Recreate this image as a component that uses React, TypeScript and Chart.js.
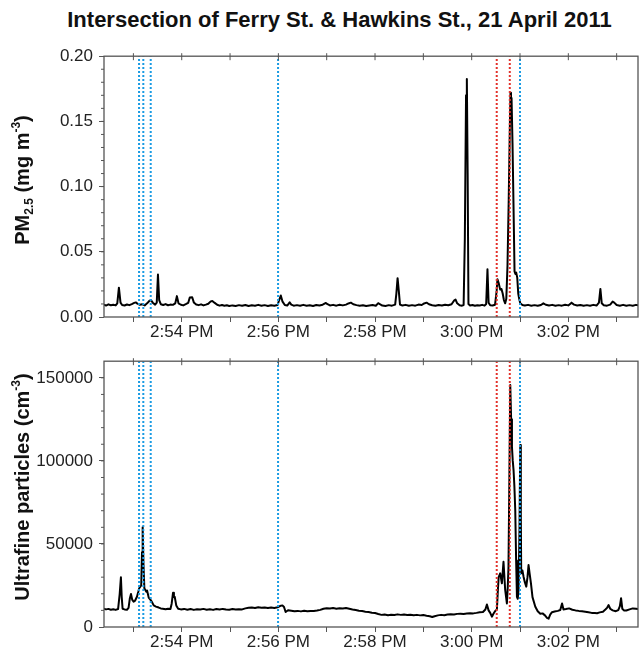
import React, { useEffect, useRef } from 'react';
import { Chart, registerables } from 'chart.js';
Chart.register(...registerables);

const TITLE = 'Intersection of Ferry St. & Hawkins St., 21 April 2011';
const FONT = '"Liberation Sans", Arial, Helvetica, sans-serif';

// time axis: seconds after 2:52:00 PM
const X_MIN = 23.5;
const X_MAX = 686.5;
const minuteTickSeconds = [60, 120, 180, 240, 300, 360, 420, 480, 540, 600, 660];
const labelledTickSeconds = [120, 240, 360, 480, 600];
const timeTickLabels = ['2:54 PM', '2:56 PM', '2:58 PM', '3:00 PM', '3:02 PM'];

const pmTickValues = [0, 0.05, 0.1, 0.15, 0.2];
const pmMax = 0.2;
const pmMinorStep = 0.01;
const ufpTickValues = [0, 50000, 100000, 150000];
const ufpMax = 160000;
const ufpMinorStep = 10000;

const blueMarkerSeconds = [67, 72.3, 81.5, 239.6, 540];
const redMarkerSeconds = [511.1, 527.3];

// [seconds after 2:52:00 PM, PM2.5 mg m-3]
const pm25Readings: [number, number][] = [
  [23, 0.0095], [26, 0.0088], [29, 0.0097], [32, 0.009], [35, 0.0094], [38, 0.0089], [40, 0.0105],
  [42, 0.0225], [44, 0.011], [46, 0.0092], [49, 0.0088], [52, 0.0096], [55, 0.0091], [58, 0.0099],
  [61, 0.0108], [63, 0.0112], [65, 0.0102], [68, 0.0094], [71, 0.0098], [74, 0.0089], [77, 0.0105],
  [80, 0.0125], [82, 0.0128], [84, 0.011], [87, 0.0095], [89, 0.011], [90.5, 0.0325], [92, 0.013],
  [94, 0.0098], [97, 0.0092], [100, 0.0099], [103, 0.009], [106, 0.0095], [109, 0.0093], [112, 0.0105],
  [114, 0.016], [116, 0.0105], [119, 0.0094], [122, 0.0089], [125, 0.0098], [128, 0.0108], [130, 0.015],
  [133, 0.0152], [135, 0.0112], [138, 0.0096], [141, 0.0091], [144, 0.0097], [147, 0.0089], [150, 0.0095],
  [153, 0.0102], [156, 0.012], [158, 0.0123], [161, 0.0108], [164, 0.0094], [167, 0.0087], [170, 0.0092],
  [173, 0.0086], [176, 0.009], [179, 0.0084], [183, 0.0089], [187, 0.0085], [191, 0.0091], [195, 0.0086],
  [199, 0.0092], [203, 0.0085], [207, 0.009], [211, 0.0087], [215, 0.0093], [219, 0.0086], [223, 0.0091],
  [227, 0.0085], [231, 0.009], [235, 0.0086], [239, 0.0092], [241, 0.013], [243, 0.0165], [245, 0.012],
  [248, 0.0092], [251, 0.0088], [254, 0.0112], [256, 0.0095], [259, 0.0087], [263, 0.0091], [267, 0.0086],
  [271, 0.0093], [275, 0.0087], [279, 0.009], [283, 0.0085], [287, 0.0092], [291, 0.0088], [295, 0.0094],
  [299, 0.0108], [301, 0.0098], [304, 0.0089], [308, 0.0093], [312, 0.0087], [316, 0.0094], [320, 0.0089],
  [324, 0.0095], [327, 0.0104], [330, 0.011], [333, 0.0098], [337, 0.0091], [341, 0.0087], [345, 0.009],
  [349, 0.0084], [353, 0.0088], [357, 0.0092], [361, 0.0086], [364, 0.0106], [366, 0.0098], [369, 0.0088],
  [373, 0.0085], [377, 0.0091], [381, 0.0087], [385, 0.0095], [386.5, 0.018], [388, 0.0298], [389.5, 0.02],
  [391, 0.0095], [394, 0.0088], [398, 0.0093], [402, 0.0086], [406, 0.0091], [410, 0.0087], [414, 0.0095],
  [418, 0.0092], [421, 0.0104], [424, 0.011], [427, 0.0098], [431, 0.009], [435, 0.0086], [439, 0.0092],
  [443, 0.0088], [447, 0.0094], [451, 0.009], [455, 0.0098], [458, 0.0125], [460, 0.0133], [462, 0.0105],
  [465, 0.009], [468, 0.0087], [470, 0.0092], [471.5, 0.06], [473, 0.17], [474, 0.1825], [475, 0.11],
  [476, 0.01], [478, 0.0088], [481, 0.0092], [484, 0.0086], [487, 0.009], [490, 0.0088], [493, 0.0093],
  [496, 0.0087], [498, 0.01], [499.6, 0.0366], [501, 0.011], [503, 0.009], [506, 0.0088], [509, 0.0094],
  [511, 0.02], [512, 0.029], [513.5, 0.026], [515.4, 0.021], [517, 0.0215], [518.5, 0.018], [520, 0.013],
  [521.6, 0.0105], [523, 0.014], [524.5, 0.04], [526, 0.09], [527.5, 0.15], [528.2, 0.172], [528.8, 0.162],
  [529.5, 0.168], [530.7, 0.133], [532, 0.083], [533.2, 0.035], [534.3, 0.033], [535.3, 0.034], [536.6, 0.03],
  [537.8, 0.018], [539, 0.014], [540.3, 0.0105], [543, 0.0092], [546, 0.0088], [550, 0.0093], [554, 0.0087],
  [558, 0.0091], [562, 0.0086], [566, 0.0092], [569, 0.0105], [572, 0.0094], [576, 0.0088], [580, 0.0093],
  [584, 0.0086], [588, 0.0091], [592, 0.0087], [596, 0.0094], [600, 0.0089], [604, 0.011], [607, 0.0095],
  [611, 0.0088], [615, 0.0092], [619, 0.0086], [623, 0.0091], [627, 0.0087], [631, 0.0093], [635, 0.0088],
  [638, 0.011], [639.8, 0.0215], [641.5, 0.0105], [644, 0.009], [648, 0.0087], [652, 0.0095], [655, 0.0118],
  [657, 0.011], [660, 0.0092], [664, 0.0087], [668, 0.0093], [672, 0.0086], [676, 0.0091], [680, 0.0087],
  [684, 0.0093], [687, 0.0089],
];

// [seconds after 2:52:00 PM, ultrafine particles cm-3]
const ufpReadings: [number, number][] = [
  [23, 11000], [26, 10600], [29, 10900], [32, 10400], [35, 10700], [38, 10300], [41, 10800], [43, 20000],
  [44.5, 29900], [45.5, 18000], [46.6, 11000], [49, 10600], [52, 10400], [54, 11500], [55.5, 17000],
  [57, 19850], [58.5, 16500], [60.3, 15200], [62, 15800], [64.4, 18200], [66, 21000], [67.2, 23300],
  [69.7, 25000], [70.7, 45000], [71.5, 60000], [72.5, 38000], [73.6, 23300], [75.9, 21300], [77, 22000],
  [79, 17700], [81.5, 16200], [83, 15000], [85.2, 13000], [88, 12300], [91.4, 11700], [94, 11200],
  [96.4, 11000], [100, 10700], [103, 11000], [106, 10800], [107.5, 14000], [109.2, 20600], [110.3, 18000],
  [111.3, 18200], [113.2, 13000], [115.6, 11000], [119, 10600], [123, 10900], [127, 10400], [131, 10800],
  [135, 10300], [139, 10700], [143, 10500], [147, 10900], [151, 10400], [155, 10700], [159, 10300],
  [163, 10800], [167, 10500], [171, 10900], [175, 10600], [179, 10400], [183, 10800], [187, 10500],
  [191, 10700], [195, 10600], [199, 11200], [203, 11600], [207, 11800], [211, 11500], [215, 11900],
  [219, 11600], [223, 11800], [227, 11400], [231, 11700], [235, 11500], [239, 11900], [242, 12600],
  [245, 13000], [247, 12000], [249, 9000], [252, 10100], [256, 9800], [260, 9500], [264, 9700], [268, 9400],
  [272, 9800], [276, 9500], [280, 9700], [284, 9600], [288, 9900], [292, 10300], [296, 11000], [300, 11300],
  [304, 11100], [308, 11400], [312, 11000], [316, 11300], [320, 11100], [324, 11400], [328, 11000],
  [332, 10500], [336, 10200], [340, 9800], [344, 9600], [348, 9200], [352, 9000], [356, 8600], [360, 8400],
  [364, 7800], [368, 7300], [372, 7500], [376, 7100], [380, 7400], [384, 7200], [388, 7600], [392, 7300],
  [396, 7500], [400, 7200], [404, 7400], [408, 7100], [412, 7300], [416, 7000], [420, 7200], [424, 6800],
  [428, 6500], [431, 6000], [434, 6500], [438, 7000], [442, 7300], [446, 7100], [450, 7500], [454, 7700],
  [458, 7500], [462, 7900], [466, 8000], [470, 7800], [474, 8100], [478, 8300], [482, 8200], [486, 8500],
  [490, 8900], [494, 9000], [497, 10500], [498.9, 13500], [501, 10000], [503, 8500], [505.1, 6200],
  [507, 8000], [509, 9500], [511.3, 10600], [512.5, 22000], [513.5, 30000], [515.4, 32300], [517.5, 26300],
  [519.5, 39300], [521.6, 22300], [523.7, 14200], [524.8, 24000], [525.7, 36000], [526.8, 90000],
  [527.9, 145600], [529, 125000], [530, 108500], [531, 100000], [532, 94400], [533, 85000], [534.1, 70400],
  [535.2, 40000], [536.2, 18200], [537.2, 17000], [538.2, 22300], [539.4, 60000], [540.3, 109500],
  [541, 68000], [541.5, 32300], [543, 34000], [544.4, 30300], [546, 27000], [547.8, 24300], [549.3, 30000],
  [550.6, 37300], [552, 32000], [553.6, 26300], [555.5, 18000], [559, 12200], [562, 9500], [565.2, 8000],
  [568, 8200], [571, 7000], [573.5, 5500], [575.5, 5000], [577.5, 7500], [579.7, 8900], [583, 9300],
  [587, 9700], [590, 10200], [592.2, 14200], [594, 10600], [597, 10800], [601, 11200], [605, 10400],
  [609, 10000], [613, 9700], [617, 9500], [621, 9200], [625, 8900], [629, 8500], [633, 8400], [635.7, 8300],
  [639, 8800], [643, 9200], [646, 10500], [648, 11500], [650, 13200], [652, 11000], [655, 10000],
  [659, 9500], [662, 10200], [664, 12500], [665.5, 17300], [667, 11000], [669, 10000], [672, 9900],
  [676, 10600], [680, 11200], [684, 11000], [687, 10800],
];

const BLUE = '#1a9be3';
const RED = '#e2312b';
const FRAME = '#555555';

type Part = { text: string; size: number; dy: number };

const pmTitleParts: Part[] = [
  { text: 'PM', size: 20, dy: 0 },
  { text: '2.5', size: 12, dy: 4 },
  { text: ' (mg m', size: 20, dy: 0 },
  { text: '-3', size: 12, dy: -9 },
  { text: ')', size: 20, dy: 0 },
];
const ufpTitleParts: Part[] = [
  { text: 'Ultrafine particles (cm', size: 20, dy: 0 },
  { text: '-3', size: 12, dy: -9 },
  { text: ')', size: 20, dy: 0 },
];

function makeFramePlugin(minorStep: number, yMax: number, parts: Part[], titleCenterY: number) {
  return {
    id: 'frameDecor',
    afterDraw(chart: any) {
      const { ctx, chartArea } = chart;
      const { left, right, top, bottom } = chartArea;
      const xs = chart.scales.x;
      const ys = chart.scales.y;
      ctx.save();
      ctx.strokeStyle = FRAME;
      ctx.lineWidth = 1.3;
      ctx.strokeRect(left, top, right - left, bottom - top);
      ctx.lineWidth = 1;
      ctx.beginPath();
      // minor y ticks
      const n = Math.round(yMax / minorStep);
      for (let i = 1; i < n; i++) {
        const v = i * minorStep;
        const py = ys.getPixelForValue(v);
        ctx.moveTo(left - 3, py);
        ctx.lineTo(left, py);
      }
      // mirrored ticks on top border
      for (const t of minuteTickSeconds) {
        const px = xs.getPixelForValue(t);
        ctx.moveTo(px, top - 3);
        ctx.lineTo(px, top + 4);
      }
      ctx.stroke();
      // rich axis title
      ctx.fillStyle = '#111';
      ctx.textBaseline = 'alphabetic';
      ctx.textAlign = 'left';
      let total = 0;
      for (const p of parts) {
        ctx.font = `bold ${p.size}px ${FONT}`;
        total += ctx.measureText(p.text).width;
      }
      ctx.translate(29, titleCenterY);
      ctx.rotate(-Math.PI / 2);
      let x = -total / 2;
      for (const p of parts) {
        ctx.font = `bold ${p.size}px ${FONT}`;
        ctx.fillText(p.text, x, p.dy);
        x += ctx.measureText(p.text).width;
      }
      ctx.restore();
    },
  };
}

type PanelProps = {
  top: number;
  height: number;
  padTop: number;
  axisH: number;
  readings: [number, number][];
  yMax: number;
  yTicks: number[];
  minorStep: number;
  fmt: (v: number) => string;
  parts: Part[];
  titleCenterY: number;
};

function Panel(props: PanelProps) {
  const ref = useRef<HTMLCanvasElement>(null);
  useEffect(() => {
    const { readings, yMax, yTicks, minorStep, fmt, parts, titleCenterY, padTop, axisH } = props;
    const markerSets = [
      ...blueMarkerSeconds.map((t) => ({ t, c: BLUE })),
      ...redMarkerSeconds.map((t) => ({ t, c: RED })),
    ].map(({ t, c }) => ({
      data: [{ x: t, y: 0 }, { x: t, y: yMax }],
      borderColor: c,
      borderWidth: 2,
      borderDash: [2, 2],
      pointRadius: 0,
      order: 0,
    }));
    const chart = new Chart(ref.current as HTMLCanvasElement, {
      type: 'line',
      data: {
        datasets: [
          ...markerSets,
          {
            data: readings.map(([x, y]) => ({ x, y })),
            borderColor: '#000',
            borderWidth: 2,
            pointRadius: 0,
            tension: 0,
            order: 1,
            borderJoinStyle: 'round',
          },
        ] as any,
      },
      options: {
        animation: false,
        responsive: false,
        devicePixelRatio: 1,
        events: [],
        layout: { padding: { top: padTop, right: 1, left: 0, bottom: 0 } },
        plugins: { legend: { display: false }, tooltip: { enabled: false }, title: { display: false } },
        scales: {
          x: {
            type: 'linear',
            min: X_MIN,
            max: X_MAX,
            afterBuildTicks: (s: any) => {
              s.ticks = minuteTickSeconds.map((v) => ({ value: v }));
            },
            afterFit: (s: any) => {
              s.height = axisH;
            },
            ticks: {
              autoSkip: false,
              maxRotation: 0,
              padding: 0,
              color: '#222',
              font: { family: FONT, size: 17 },
              callback: (v: any) => {
                const i = labelledTickSeconds.indexOf(Number(v));
                return i >= 0 ? timeTickLabels[i] : '';
              },
            },
            grid: { display: true, drawOnChartArea: false, drawTicks: true, tickLength: 5, tickColor: FRAME, tickWidth: 1 },
            border: { display: false },
          },
          y: {
            type: 'linear',
            min: 0,
            max: yMax,
            afterBuildTicks: (s: any) => {
              s.ticks = yTicks.map((v) => ({ value: v }));
            },
            afterFit: (s: any) => {
              s.width = 104;
            },
            ticks: {
              padding: 6,
              color: '#222',
              font: { family: FONT, size: 17 },
              callback: (v: any) => fmt(Number(v)),
            },
            grid: { display: true, drawOnChartArea: false, drawTicks: true, tickLength: 5, tickColor: FRAME, tickWidth: 1 },
            border: { display: false },
          },
        },
      } as any,
      plugins: [makeFramePlugin(minorStep, yMax, parts, titleCenterY)],
    });
    return () => chart.destroy();
  }, []);
  return (
    <canvas
      ref={ref}
      width={639}
      height={props.height}
      style={{ position: 'absolute', left: 0, top: props.top, width: 639, height: props.height }}
    />
  );
}

export default function App() {
  return (
    <div style={{ position: 'absolute', left: 0, top: 0, width: 639, height: 656, background: '#fff', overflow: 'hidden' }}>
      <div
        style={{
          position: 'absolute',
          left: 40,
          top: 9,
          width: 599,
          textAlign: 'center',
          whiteSpace: 'nowrap',
          fontFamily: FONT,
          fontWeight: 'bold',
          fontSize: 22,
          lineHeight: '22px',
          color: '#111',
        }}
      >
        {TITLE}
      </div>
      <Panel
        top={40}
        height={305}
        padTop={11}
        axisH={28}
        readings={pm25Readings}
        yMax={pmMax}
        yTicks={pmTickValues}
        minorStep={pmMinorStep}
        fmt={(v) => v.toFixed(2)}
        parts={pmTitleParts}
        titleCenterY={140}
      />
      <Panel
        top={345}
        height={311}
        padTop={16}
        axisH={29}
        readings={ufpReadings}
        yMax={ufpMax}
        yTicks={ufpTickValues}
        minorStep={ufpMinorStep}
        fmt={(v) => String(Math.round(v))}
        parts={ufpTitleParts}
        titleCenterY={142}
      />
    </div>
  );
}
